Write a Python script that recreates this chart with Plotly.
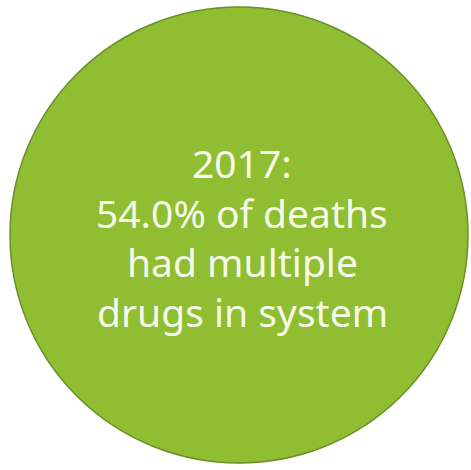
import plotly.graph_objects as go

# Figures shown in the callout
year = 2017
share_pct = 54.0
lines = [
    f"{year}:",
    f"{share_pct:.1f}% of deaths",
    "had multiple",
    "drugs in system",
]
line_y = [162, 212, 261, 311]

W, H = 471, 470
fig = go.Figure()

fig.add_shape(
    type="circle", xref="x", yref="y",
    x0=10, x1=468, y0=7, y1=463,
    fillcolor="#8fbe32",
    line=dict(color="#6b8f27", width=1.5),
    layer="below",
)

for txt, y in zip(lines, line_y):
    fig.add_annotation(
        x=242, y=y, xref="x", yref="y",
        text=txt, showarrow=False,
        xanchor="center", yanchor="middle",
        font=dict(family="Noto Sans", size=39, color="#f6faea"),
    )

fig.update_xaxes(range=[0, W], visible=False, fixedrange=True)
fig.update_yaxes(range=[H, 0], visible=False, fixedrange=True)
fig.update_layout(
    width=W, height=H,
    margin=dict(l=0, r=0, t=0, b=0),
    paper_bgcolor="white", plot_bgcolor="white",
    showlegend=False,
)

fig.write_html("out.html")
